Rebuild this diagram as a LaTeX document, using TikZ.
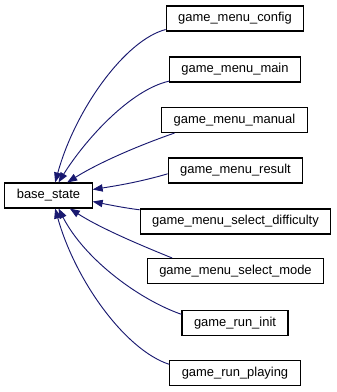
\documentclass[tikz,border=0pt]{standalone}
\usepackage{fontspec}
\setmainfont{Liberation Sans}
\usetikzlibrary{arrows.meta}
\definecolor{edgeblue}{RGB}{25,25,112}

\begin{document}
\begin{tikzpicture}[
      x=0.75pt, y=-0.75pt,
      every node/.style={font=\fontsize{9.7pt}{11pt}\selectfont},
      cls/.style={draw=black, fill=white, line width=0.8pt, inner xsep=9pt,
        inner ysep=0pt, minimum height=18.75pt},
      inherit/.style={draw=edgeblue, line width=0.7pt,
        -{Triangle[length=7.5pt,width=5.5pt]}}
    ]
      \useasboundingbox (0,0) rectangle (336,392);

      \node[cls] (base) at (48.5,195.5) {base\_state};

      \node[cls] (config)     at (235,18.5)  {game\_menu\_config};
      \node[cls] (mainmenu)   at (235,69.5)  {game\_menu\_main};
      \node[cls] (manual)     at (234.5,120) {game\_menu\_manual};
      \node[cls] (result)     at (235.5,170.5) {game\_menu\_result};
      \node[cls] (difficulty) at (235.5,221.5) {game\_menu\_select\_difficulty};
      \node[cls] (selmode)    at (235.5,271) {game\_menu\_select\_mode};
      \node[cls] (runinit)    at (235,323)   {game\_run\_init};
      \node[cls] (runplaying) at (235,373)   {game\_run\_playing};

      \draw[inherit] ([yshift=1.5pt]config.south west) .. controls (125,40) and (75,110) .. ([xshift=5pt]base.north);
      \draw[inherit] ([yshift=1pt]mainmenu.south west) .. controls (130,90) and (85,140) .. ([xshift=7.5pt]base.north);
      \draw[inherit] ([xshift=10pt]manual.south west) .. controls (140,145) and (100,162) .. ([xshift=14pt]base.north);
      \draw[inherit] ([yshift=-2.5pt]result.west) .. controls (140,182) and (115,186) .. ([yshift=4.5pt]base.east);
      \draw[inherit] ([yshift=-1pt]difficulty.north west) .. controls (125,208) and (110,205) .. ([yshift=-4.5pt]base.east);
      \draw[inherit] ([xshift=19pt]selmode.north west) .. controls (140,245) and (100,228) .. ([xshift=16pt]base.south);
      \draw[inherit] ([yshift=6.5pt]runinit.west) .. controls (140,300) and (85,260) .. ([xshift=7.5pt]base.south);
      \draw[inherit] ([yshift=6.5pt]runplaying.west) .. controls (125,350) and (75,280) .. ([xshift=5pt]base.south);
\end{tikzpicture}
\end{document}
